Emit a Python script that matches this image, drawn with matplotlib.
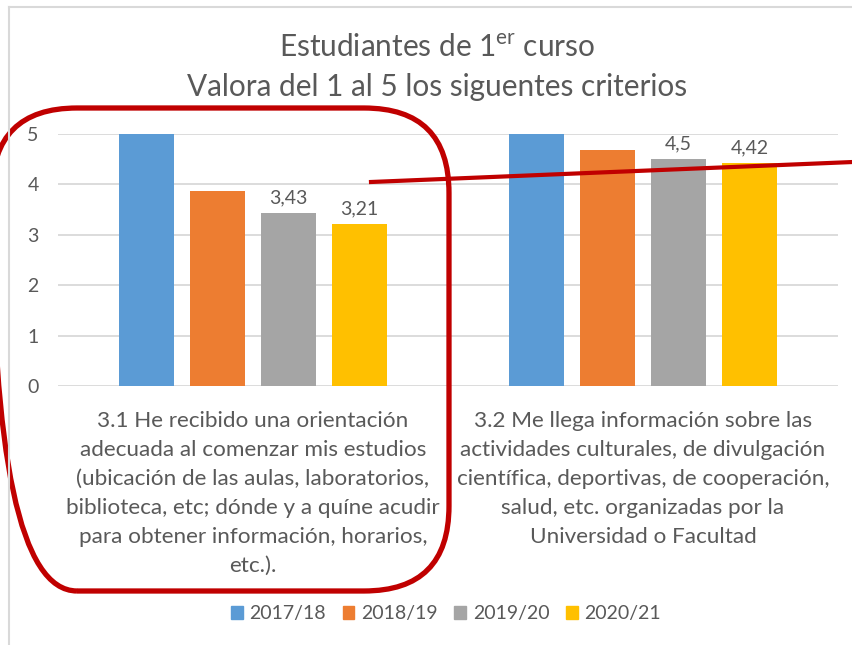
import matplotlib
matplotlib.use("Agg")
import matplotlib.pyplot as plt
import numpy as np
from matplotlib.patches import FancyBboxPatch, Patch
from matplotlib.lines import Line2D
from matplotlib.transforms import IdentityTransform

plt.rcParams['font.family'] = ['Lato', 'DejaVu Sans']

# data
categories = [
    "3.1 He recibido una orientación\nadecuada al comenzar mis estudios\n(ubicación de las aulas, laboratorios,\nbiblioteca, etc; dónde y a quíne acudir\npara obtener información, horarios,\netc.).",
    "3.2 Me llega información sobre las\nactividades culturales, de divulgación\ncientífica, deportivas, de cooperación,\nsalud, etc. organizadas por la\nUniversidad o Facultad",
]
series = ["2017/18", "2018/19", "2019/20", "2020/21"]
v2017 = [5.0, 5.0]
v2018 = [3.87, 4.68]
v2019 = [3.43, 4.5]
v2020 = [3.21, 4.42]
labels2019 = ["3,43", "4,5"]
labels2020 = ["3,21", "4,42"]

colors = ["#5B9BD5", "#ED7D31", "#A5A5A5", "#FFC000"]
txt = "#595959"
W, H = 853, 645

fig = plt.figure(figsize=(W / 100, H / 100), dpi=100)
ax = fig.add_axes([58 / W, 1 - 386 / H, 780 / W, 252 / H])

x = np.arange(len(categories))
bw = 0.141
step = 0.182
vals = [v2017, v2018, v2019, v2020]
for i, (v, c) in enumerate(zip(vals, colors)):
    ax.bar(x + (i - 1.5) * step, v, bw, color=c, zorder=3)

for xi, v, l in zip(x, v2019, labels2019):
    ax.annotate(l, (xi + 0.5 * step, v), xytext=(0, 5), textcoords="offset points",
                ha="center", va="bottom", fontsize=14, color=txt)
for xi, v, l in zip(x, v2020, labels2020):
    ax.annotate(l, (xi + 1.5 * step, v), xytext=(0, 5), textcoords="offset points",
                ha="center", va="bottom", fontsize=14, color=txt)

ax.set_xlim(-0.5, 1.5)
ax.set_ylim(0, 5)
ax.set_yticks(range(6))
ax.tick_params(axis="y", length=0, pad=14, labelsize=14, labelcolor=txt)
ax.set_xticks(x)
ax.set_xticklabels(categories, fontsize=16.2, color=txt, linespacing=1.56)
ax.tick_params(axis="x", length=0, pad=18)
ax.grid(axis="y", color="#D9D9D9", linewidth=1.3, zorder=0)
for s in ax.spines.values():
    s.set_visible(False)

fig.text(437 / W, 1 - 48 / H, r"Estudiantes de 1$^{\mathregular{er}}$ curso",
         ha="center", va="center", fontsize=21.4, color=txt)
fig.text(437 / W, 1 - 87 / H, "Valora del 1 al 5 los siguentes criterios",
         ha="center", va="center", fontsize=21.4, color=txt)

handles = [Patch(color=c) for c in colors]
fig.legend(handles, series, loc="center", bbox_to_anchor=(446 / W, 1 - 614 / H),
           ncol=4, frameon=False, fontsize=14, labelcolor=txt,
           handlelength=0.6, handleheight=0.6, handletextpad=0.35, columnspacing=0.85)

# chart frame
fig.add_artist(Line2D([9, W], [H - 7, H - 7], transform=IdentityTransform(),
                      color="#D9D9D9", linewidth=1.5))
fig.add_artist(Line2D([9, 9], [0, H - 7], transform=IdentityTransform(),
                      color="#D9D9D9", linewidth=1.5))

# red annotations
box = FancyBboxPatch((-8, H - 591), 457, 483, boxstyle="round,pad=0,rounding_size=85",
                     transform=IdentityTransform(), fill=False, edgecolor="#C00000",
                     linewidth=3.8)
fig.add_artist(box)
fig.add_artist(Line2D([371, W], [H - 182, H - 162], transform=IdentityTransform(),
                      color="#C00000", linewidth=3))

fig.savefig("out.png", dpi=100)
